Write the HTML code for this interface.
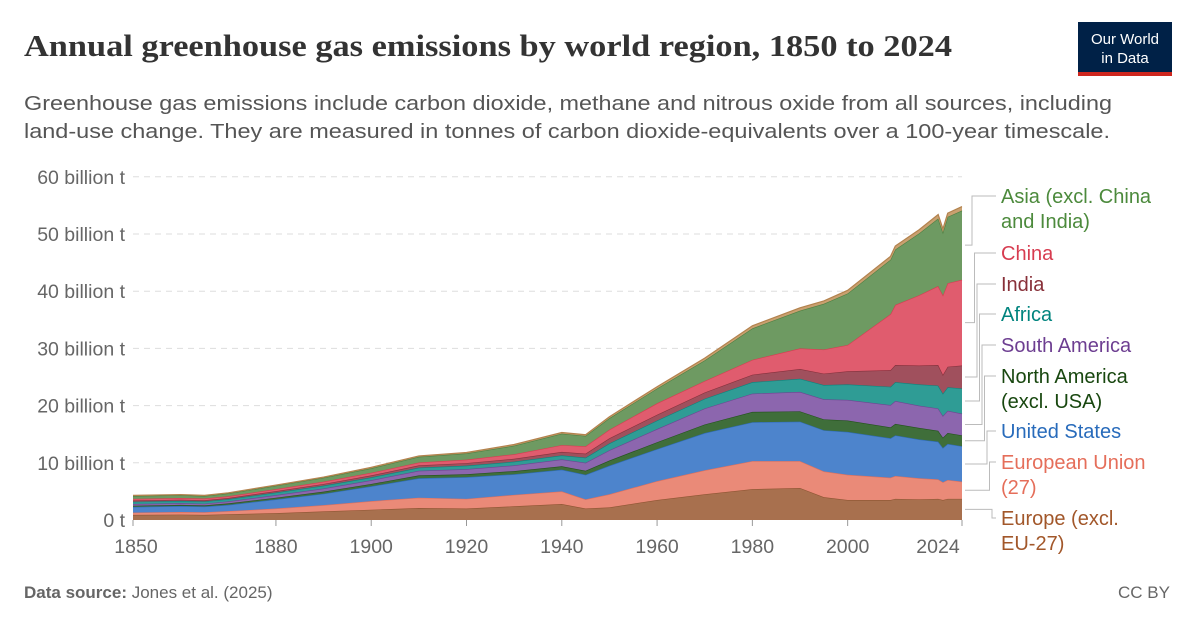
<!DOCTYPE html>
<html><head><meta charset="utf-8"><style>
body{margin:0;background:#fff;width:1200px;height:627px;overflow:hidden;font-family:"Liberation Sans",sans-serif}
svg text{font-family:"Liberation Sans",sans-serif}
</style></head><body>
<svg id="c" width="1200" height="627" xmlns="http://www.w3.org/2000/svg">
<text x="24" y="56" font-size="31" font-weight="bold" fill="#333" textLength="928" lengthAdjust="spacingAndGlyphs" style="font-family:'Liberation Serif',serif">Annual greenhouse gas emissions by world region, 1850 to 2024</text>
<text x="24" y="110" font-size="20.5" fill="#555" textLength="1088" lengthAdjust="spacingAndGlyphs">Greenhouse gas emissions include carbon dioxide, methane and nitrous oxide from all sources, including</text>
<text x="24" y="138" font-size="20.5" fill="#555" textLength="1086" lengthAdjust="spacingAndGlyphs">land-use change. They are measured in tonnes of carbon dioxide-equivalents over a 100-year timescale.</text>
<g>
<rect x="1078" y="22" width="94" height="54" fill="#002147"/>
<rect x="1078" y="72" width="94" height="4" fill="#ce261e"/>
<text x="1125" y="44" font-size="15" fill="#fff" text-anchor="middle">Our World</text>
<text x="1125" y="63" font-size="15" fill="#fff" text-anchor="middle">in Data</text>
</g>
<g id="grid"></g><g id="areas"></g><g id="axes"></g><g id="labels"></g>
<text x="24" y="598" font-size="17" fill="#666"><tspan font-weight="bold">Data source:</tspan> Jones et al. (2025)</text>
<text x="1170" y="598" font-size="17" fill="#666" text-anchor="end">CC BY</text>
</svg>
<script>
const years=[1850,1860,1865,1870,1880,1890,1900,1910,1920,1930,1940,1945,1950,1960,1970,1980,1990,1995,2000,2009,2010,2015,2019,2020,2021,2024];
const europeExcl=[0.9,0.95,0.9,1.0,1.2,1.5,1.8,2.1,2.0,2.4,2.8,2.0,2.2,3.5,4.5,5.4,5.6,4.0,3.5,3.5,3.7,3.6,3.7,3.5,3.7,3.7];
const eu27=[0.4,0.45,0.45,0.55,0.8,1.1,1.5,1.8,1.7,2.0,2.2,1.6,2.3,3.3,4.2,4.9,4.7,4.5,4.4,3.9,4.0,3.7,3.4,3.1,3.3,3.0];
const usa=[1.0,1.05,1.0,1.1,1.6,2.0,2.6,3.4,3.8,3.6,3.8,4.3,5.0,5.6,6.5,6.8,6.9,7.2,7.5,6.9,7.1,6.8,6.6,6.0,6.3,6.2];
const naExcl=[0.2,0.2,0.2,0.25,0.3,0.35,0.4,0.5,0.5,0.55,0.6,0.7,0.9,1.2,1.5,1.8,1.8,1.9,2.0,1.9,2.0,2.0,1.9,1.8,1.9,1.9];
const southAm=[0.3,0.3,0.3,0.35,0.45,0.55,0.65,0.8,0.9,1.0,1.2,1.4,1.8,2.3,2.8,3.2,3.4,3.5,3.6,3.9,4.0,3.9,3.9,3.8,3.9,3.8];
const africa=[0.4,0.4,0.4,0.4,0.45,0.5,0.5,0.55,0.6,0.65,0.7,0.9,1.2,1.5,1.7,2.0,2.3,2.5,2.7,3.2,3.3,3.7,4.0,3.9,4.1,4.4];
const india=[0.2,0.2,0.2,0.2,0.25,0.3,0.35,0.4,0.45,0.5,0.6,0.7,0.9,1.0,1.1,1.3,1.7,2.0,2.3,2.9,3.0,3.3,3.6,3.3,3.6,4.0];
const china=[0.3,0.3,0.3,0.3,0.35,0.4,0.45,0.5,0.6,0.8,1.2,1.3,1.5,2.0,2.0,2.6,3.6,4.2,4.6,9.8,10.5,12.3,13.8,13.9,14.6,15.0];
const asiaExcl=[0.5,0.5,0.45,0.5,0.6,0.7,0.8,1.0,1.1,1.5,2.0,1.8,2.0,2.6,3.6,5.5,6.6,8.0,9.0,9.5,9.7,10.8,11.8,11.0,11.6,12.1];
const other=[0.1,0.1,0.1,0.1,0.1,0.1,0.15,0.15,0.15,0.2,0.2,0.2,0.25,0.3,0.4,0.45,0.5,0.5,0.55,0.6,0.6,0.65,0.7,0.6,0.65,0.7];
const seriesNames=["europe-excl-eu27","european-union-27","united-states","north-america-excl-usa","south-america","africa","india","china","asia-excl-china-india","other"];
const seriesData=[europeExcl,eu27,usa,naExcl,southAm,africa,india,china,asiaExcl,other];
const fills=["#a8704e","#ea8a78","#4d84cc","#3f6e3a","#8c66ae","#2f9c95","#a0505d","#e05c6e","#6e9a62","#c9a070"];
const strokes=["#8f5533","#e0705c","#2f6cb8","#24521d","#6e4592","#0d837c","#85303c","#d73c50","#4f7f41","#b3824d"];
const yTicks=[0,10,20,30,40,50,60];
const xTicks=[1850,1880,1900,1920,1940,1960,1980,2000,2024];
const labelText=[["Europe (excl.","EU-27)"],["European Union","(27)"],["United States"],["North America","(excl. USA)"],["South America"],["Africa"],["India"],["China"],["Asia (excl. China","and India)"]];
const labelY=[525,469,438,383,352,321,291,260,203];
const labelColor=["#a2572a","#e56e5a","#286bbb","#18470f","#6d3e91","#00847e","#883039","#d73c50","#4c8a3c"];
const X=y=>133+(y-1850)*(962-133)/174;
const Y=v=>520-v*5.72;
const NS="http://www.w3.org/2000/svg";
function mk(t,a,p){const e=document.createElementNS(NS,t);for(const k in a)e.setAttribute(k,a[k]);p.appendChild(e);return e;}
const grid=document.getElementById('grid'),axes=document.getElementById('axes'),areas=document.getElementById('areas'),labs=document.getElementById('labels');
yTicks.forEach(v=>{
 if(v>0){const l=mk('line',{x1:133,x2:962,y1:Y(v),y2:Y(v),stroke:'#ddd','stroke-dasharray':'6,5'},grid);
 
 }
 const t=mk('text',{x:125,y:Y(v)+7,'font-size':19.5,fill:'#666','text-anchor':'end'},axes);
 t.textContent=v===0?'0 t':v+' billion t';
 
 
});
xTicks.forEach(y=>{
 const tk=mk('line',{x1:X(y),x2:X(y),y1:520,y2:526,stroke:'#999'},axes);
 
 
 let xp=X(y); if(y===2024)xp=938; if(y===1850)xp=136;
 const t=mk('text',{x:xp,y:553,'font-size':19.5,fill:'#666','text-anchor':'middle'},axes);
 t.textContent=y;
 
 
});
let base=years.map(()=>0);
const mids=[];
seriesData.forEach((s,i)=>{
 const top=s.map((v,j)=>base[j]+v);
 let d='M'+years.map((y,j)=>X(y)+','+Y(top[j])).join('L');
 d+='L'+years.slice().reverse().map((y,k)=>{const j=years.length-1-k;return X(y)+','+Y(base[j]);}).join('L')+'Z';
 const p=mk('path',{d:d,fill:fills[i]},areas);
 
 
 const ln=mk('path',{d:'M'+years.map((y,j)=>X(y)+','+Y(top[j])).join('L'),fill:'none',stroke:strokes[i],'stroke-width':1.2},areas);
 
 
 const n=years.length-1;
 mids.push(Y((base[n]+top[n])/2));
 base=top;
});
labelText.forEach((lines,i)=>{
 const g=mk('g',{},labs);
 
 
 const vx=992-i*2.5;
 mk('polyline',{points:`965,${mids[i]} ${vx},${mids[i]} ${vx},${labelY[i]-7} 996,${labelY[i]-7}`,fill:'none',stroke:'#bbb','stroke-width':1},g);
 lines.forEach((t,k)=>{const e=mk('text',{x:1001,y:labelY[i]+k*25,'font-size':20,fill:labelColor[i]},g);e.textContent=t;});
});
</script>
</body></html>
